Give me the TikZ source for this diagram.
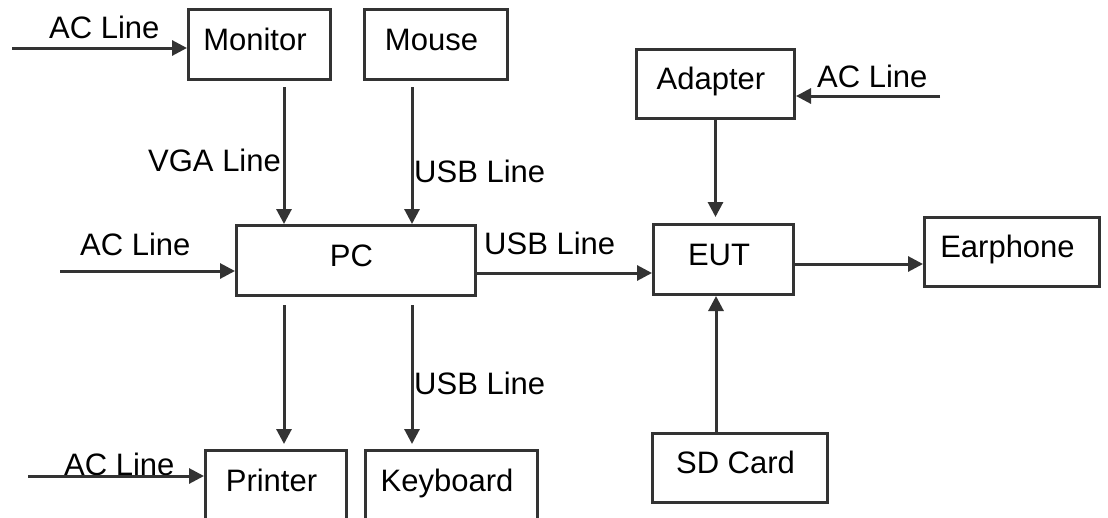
\documentclass[tikz,border=0pt]{standalone}
\usepackage{fontspec}
\setmainfont{Liberation Sans}
\usetikzlibrary{arrows.meta,calc}
\definecolor{linec}{HTML}{333333}
\tikzset{
  box/.style={draw=linec, line width=3pt, inner sep=0pt, minimum height=70pt,
    text height=22pt, text depth=11pt, font=\fontsize{31pt}{37pt}\selectfont,
    execute at end node={\hspace*{9pt}}},
  lbl/.style={inner sep=0pt, anchor=base west, font=\fontsize{31pt}{37pt}\selectfont},
  arr/.style={draw=linec, line width=3pt, -{Triangle[length=15pt,width=15pt]}}
}
\begin{document}
\begin{tikzpicture}[x=1pt,y=-1pt]
\path[use as bounding box] (0,0) rectangle (1108,517);
\clip (0,0) rectangle (1108,517);
% boxes
\node[box, minimum width=142pt] (Monitor) at (259.5,44.5) {Monitor};
\node[box, minimum width=143pt] (Mouse) at (436,44.5) {Mouse};
\node[box, minimum width=239pt] (PC) at (356,260.5) {PC};
\node[box, minimum width=140pt] (EUT) at (723.5,259.5) {EUT};
\node[box, minimum width=175pt, minimum height=69pt] (Earphone) at (1012,252) {Earphone};
\node[box, minimum width=158pt, minimum height=69pt] (Adapter) at (715.5,84) {Adapter};
\node[box, minimum width=175pt, minimum height=69pt] (SDCard) at (740,468) {SD Card};
\node[box, minimum width=141pt] (Printer) at (276,485.5) {Printer};
\node[box, minimum width=172pt] (Keyboard) at (451.5,485.5) {Keyboard};
% free ends
\coordinate (acMon) at (12,48);
\coordinate (acPC) at (60,271);
\coordinate (acAd) at (940,96);
\coordinate (acPr) at (28,476);
% labels
\node[lbl] (lAC1) at (49,38) {AC Line};
\node[lbl] (lVGA) at (148,171) {VGA Line};
\node[lbl] (lUSB1) at (414,182) {USB Line};
\node[lbl] (lAC2) at (80,255) {AC Line};
\node[lbl] (lUSB2) at (484,254) {USB Line};
\node[lbl] (lAC3) at (817,87) {AC Line};
\node[lbl] (lUSB3) at (414,394) {USB Line};
\node[lbl] (lAC4) at (64,475) {AC Line};
% connectors
\draw[arr] (acMon) -- (acMon -| Monitor.west);
\draw[arr] ([xshift=24.5pt,yshift=-6pt]Monitor.south) -- ([xshift=24.5pt]Monitor.south |- PC.north);
\draw[arr] ([xshift=-24pt,yshift=-6pt]Mouse.south) -- ([xshift=-24pt]Mouse.south |- PC.north);
\draw[arr] (acPC) -- (acPC -| PC.west);
\draw[arr] ([yshift=-12.5pt]PC.east) -- ([yshift=-12.5pt]PC.east -| EUT.west);
\draw[arr] ([yshift=-4.5pt]EUT.east) -- ([yshift=-4.5pt]EUT.east -| Earphone.west);
\draw[arr] (acAd) -- (acAd -| Adapter.east);
\draw[arr, shorten >=6pt] (Adapter.south) -- (Adapter.south |- EUT.north);
\draw[arr] ([xshift=-24pt]SDCard.north) -- ([xshift=-24pt]SDCard.north |- EUT.south);
\draw[arr, shorten >=5pt] ([xshift=-72pt,yshift=-8pt]PC.south) -- ([xshift=-72pt]PC.south |- Printer.north);
\draw[arr, shorten >=5pt] ([xshift=56pt,yshift=-8pt]PC.south) -- ([xshift=56pt]PC.south |- Keyboard.north);
\draw[arr] (acPr) -- (acPr -| Printer.west);
\end{tikzpicture}
\end{document}
